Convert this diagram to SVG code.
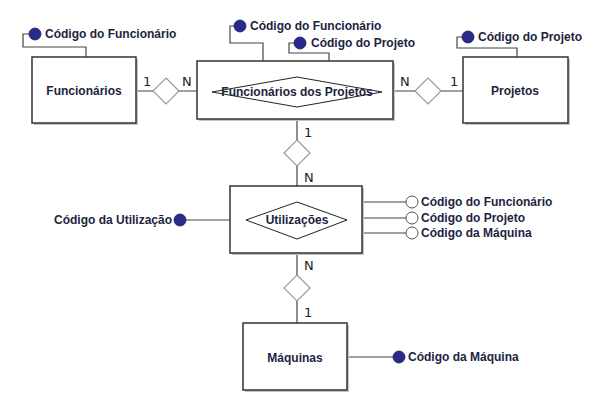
<svg xmlns="http://www.w3.org/2000/svg" width="613" height="410" viewBox="0 0 613 410">
<style>
.box{fill:#fff;stroke:#333;stroke-width:1.5}
.shadow{fill:#c4c4c4}
.rel{fill:#fff;stroke:#999;stroke-width:1.2}
.inner{fill:#fff;stroke:#222;stroke-width:1}
.ln{fill:none;stroke:#444;stroke-width:1.2}
.key{fill:#2a2a8c;stroke:#1a1a5a;stroke-width:0.8}
.att{fill:#fff;stroke:#555;stroke-width:1}
.lbl{font-family:"Liberation Sans",Arial,sans-serif;font-size:12px;font-weight:bold;fill:#1c2440}
.ent{font-family:"Liberation Sans",Arial,sans-serif;font-size:12px;font-weight:bold;fill:#1c2440}
.card{font-family:"DejaVu Sans",sans-serif;font-size:13px;fill:#222}
</style>
<rect width="613" height="410" fill="#fff"/>
<g id="connectors">
<polyline class="ln" points="86,57 86,47 23,47 23,34 30,34"/>
<polyline class="ln" points="263,61 263,43 230,43 230,26 235,26"/>
<polyline class="ln" points="329,61 329,53 289,53 289,43 295,43"/>
<polyline class="ln" points="517,57 517,48 457,48 457,37 463,37"/>
<line class="ln" x1="136" y1="91" x2="197" y2="91"/>
<line class="ln" x1="393" y1="91" x2="463" y2="91"/>
<line class="ln" x1="297" y1="119" x2="297" y2="186"/>
<line class="ln" x1="297" y1="253" x2="297" y2="323"/>
<line class="ln" x1="186" y1="220" x2="230" y2="220"/>
<line class="ln" x1="362" y1="202" x2="406" y2="202"/>
<line class="ln" x1="362" y1="218" x2="406" y2="218"/>
<line class="ln" x1="362" y1="233" x2="406" y2="233"/>
<line class="ln" x1="347" y1="357" x2="393" y2="357"/>
<polygon class="rel" points="166,78 179,91 166,104 153,91"/>
<polygon class="rel" points="428,78 441,91 428,104 415,91"/>
<polygon class="rel" points="297,140 310,153 297,166 284,153"/>
<polygon class="rel" points="297,275 310,288 297,301 284,288"/>
<text class="card" x="143" y="86">1</text>
<text class="card" x="182" y="86">N</text>
<text class="card" x="400" y="86">N</text>
<text class="card" x="450" y="86">1</text>
<text class="card" x="304" y="137">1</text>
<text class="card" x="304" y="182">N</text>
<text class="card" x="304" y="270">N</text>
<text class="card" x="304" y="317">1</text>
</g>
<g id="funcionarios">
<rect class="shadow" x="34" y="59" width="104" height="66"/>
<rect class="box" x="32" y="57" width="104" height="66"/>
<text class="ent" x="84" y="95" text-anchor="middle">Funcionários</text>
<circle class="key" cx="35" cy="34" r="6"/>
<text class="lbl" x="45" y="38">Código do Funcionário</text>
</g>
<g id="funcionarios-projetos">
<rect class="shadow" x="199" y="63" width="196" height="58"/>
<rect class="box" x="197" y="61" width="196" height="58"/>
<polygon class="inner" points="297,77 382,92 297,107 212,92"/>
<text class="ent" x="297" y="96" text-anchor="middle">Funcionários dos Projetos</text>
<circle class="key" cx="240" cy="26" r="6"/>
<text class="lbl" x="250" y="30">Código do Funcionário</text>
<circle class="key" cx="300" cy="43" r="6"/>
<text class="lbl" x="311" y="47">Código do Projeto</text>
</g>
<g id="projetos">
<rect class="shadow" x="465" y="59" width="105" height="66"/>
<rect class="box" x="463" y="57" width="105" height="66"/>
<text class="ent" x="515" y="95" text-anchor="middle">Projetos</text>
<circle class="key" cx="468" cy="37" r="6"/>
<text class="lbl" x="478" y="41">Código do Projeto</text>
</g>
<g id="utilizacoes">
<rect class="shadow" x="232" y="188" width="132" height="67"/>
<rect class="box" x="230" y="186" width="132" height="67"/>
<polygon class="inner" points="297,202 347,220 297,239 246,220"/>
<text class="ent" x="297" y="224" text-anchor="middle">Utilizações</text>
<circle class="key" cx="180" cy="220" r="6"/>
<text class="lbl" x="172" y="224" text-anchor="end">Código da Utilização</text>
<circle class="att" cx="412" cy="202" r="6"/>
<text class="lbl" x="421" y="206">Código do Funcionário</text>
<circle class="att" cx="412" cy="218" r="6"/>
<text class="lbl" x="421" y="222">Código do Projeto</text>
<circle class="att" cx="412" cy="233" r="6"/>
<text class="lbl" x="421" y="237">Código da Máquina</text>
</g>
<g id="maquinas">
<rect class="shadow" x="245" y="325" width="104" height="67"/>
<rect class="box" x="243" y="323" width="104" height="67"/>
<text class="ent" x="295" y="362" text-anchor="middle">Máquinas</text>
<circle class="key" cx="399" cy="357" r="6"/>
<text class="lbl" x="408" y="361">Código da Máquina</text>
</g>
</svg>
